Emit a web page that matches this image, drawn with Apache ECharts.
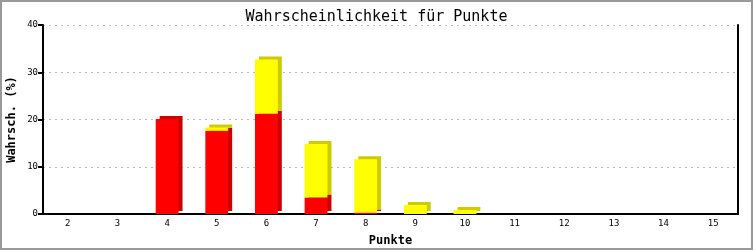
<!DOCTYPE html>
<html><head><meta charset="utf-8">
<script src="https://cdn.jsdelivr.net/npm/echarts@6/dist/echarts.min.js"></script>
<style>
html,body{margin:0;padding:0;background:#fff;}
#wrap{position:relative;width:753px;height:250px;}
#c{position:absolute;left:0;top:0;width:753px;height:250px;}
#frame{position:absolute;left:0;top:0;width:753px;height:250px;box-sizing:border-box;border:2px solid #999;pointer-events:none;}
</style></head>
<body><div id="wrap"><div id="c"></div><div id="frame"></div></div>
<script>
const categories = ['2','3','4','5','6','7','8','9','10','11','12','13','14','15'];
const redValues = [0,0,20.1,17.6,21.2,3.5,0.3,0,0,0,0,0,0,0];
const yellowValues = [0,0,0,0.7,11.5,11.3,11.3,1.9,0.85,0,0,0,0,0];
const yTicks = [0,10,20,30,40];

const chart = echarts.init(document.getElementById('c'), null, {renderer:'canvas'});
const mono = 'DejaVu Sans Mono, Liberation Mono, monospace';
chart.setOption({
  animation:false,
  backgroundColor:'#fff',
  title:{text:'Wahrscheinlichkeit für Punkte',left:'center',top:5,
    textStyle:{fontFamily:mono,fontSize:15,fontWeight:'normal',color:'#000'}},
  grid:{left:43,right:15,top:25,bottom:36,outerBoundsMode:'none',containLabel:false},
  xAxis:{type:'category',data:categories,
    axisLine:{lineStyle:{color:'#000',width:2}},
    axisTick:{show:false},
    axisLabel:{fontFamily:mono,fontSize:9,color:'#000',margin:5},
    name:'Punkte',nameLocation:'middle',nameGap:21,
    nameTextStyle:{fontFamily:mono,fontSize:12,fontWeight:'bold',color:'#000'}},
  yAxis:[{type:'value',min:yTicks[0],max:yTicks[yTicks.length-1],interval:10,
    axisLine:{show:true,lineStyle:{color:'#000',width:2}},
    axisTick:{show:true,length:5,lineStyle:{color:'#000',width:2}},
    axisLabel:{fontFamily:mono,fontSize:9,color:'#000',margin:5},
    splitLine:{show:true,lineStyle:{color:'#bbb',type:[2,4],width:1}},
    name:'Wahrsch. (%)',nameLocation:'middle',nameGap:25,nameMoveOverlap:false,
    nameTextStyle:{fontFamily:mono,fontSize:12,fontWeight:'bold',color:'#000'}},
   {type:'value',min:0,max:40,interval:10,position:'right',
    axisLine:{show:true,lineStyle:{color:'#000',width:2}},
    axisTick:{show:false},axisLabel:{show:false},splitLine:{show:false}}],
  series:[
    {type:'bar',stack:'a',data:redValues,barWidth:'46%',
     itemStyle:{color:'#ff0000',shadowColor:'#cc0000',shadowBlur:0,shadowOffsetX:4,shadowOffsetY:-3}},
    {type:'bar',stack:'a',data:yellowValues,barWidth:'46%',
     itemStyle:{color:'#ffff00',shadowColor:'#cccc00',shadowBlur:0,shadowOffsetX:4,shadowOffsetY:-3}}
  ]
});
</script></body></html>
